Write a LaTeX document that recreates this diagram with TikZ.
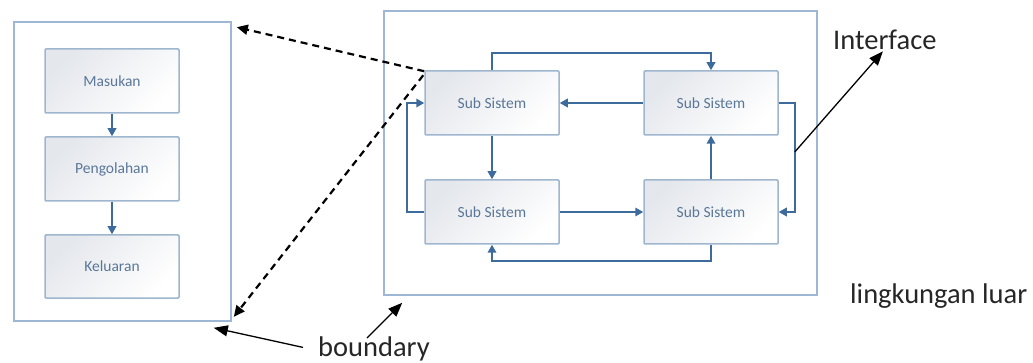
\documentclass[tikz,border=0pt]{standalone}
\usepackage{fontspec}
\setmainfont{Carlito}
\usetikzlibrary{arrows.meta,calc}
\definecolor{framecol}{HTML}{9DB7D5}
\definecolor{boxline}{HTML}{9FB6CF}
\definecolor{boxshade}{HTML}{E4E7EC}
\definecolor{flowcol}{HTML}{3D6B9C}
\definecolor{boxtext}{HTML}{5A7799}
\definecolor{labeltext}{HTML}{262626}

\begin{document}
\begin{tikzpicture}[x=1pt,y=-1pt,
  outerframe/.style={draw=framecol,line width=1.6pt,inner sep=0},
  unit/.style={draw=boxline,line width=1.5pt,rounded corners=1pt,
    top color=boxshade,bottom color=white,shading angle=45,
    minimum width=134pt,minimum height=64pt,inner sep=0,
    font=\fontsize{15.5}{18}\selectfont,text=boxtext},
  flowline/.style={draw=flowcol,line width=1.8pt,-{Triangle[length=8pt,width=8.5pt]}},
  dashlink/.style={draw=black,line width=2.2pt,dash pattern=on 7pt off 5pt,
    -{Triangle[length=11pt,width=10pt]}},
  pointer/.style={draw=black,line width=1.3pt,-{Triangle[length=14pt,width=11pt]}},
  caption/.style={inner sep=0,font=\fontsize{28.5}{32}\selectfont,text=labeltext}]

  \useasboundingbox (0,0) rectangle (1033,363);

  % system with input, process and output
  \node[outerframe,minimum width=217pt,minimum height=299pt] (sysbox) at (122.5,171.5) {};
  \node[unit] (mas)  at (112,81)    {Masukan};
  \node[unit] (peng) at (112,169)   {Pengolahan};
  \node[unit,minimum height=63pt] (kel) at (112,266.5) {Keluaran};
  \draw[flowline] (mas) -- (peng);
  \draw[flowline] (peng) -- (kel);

  % system made of interacting subsystems
  \node[outerframe,minimum width=433pt,minimum height=284pt] (env) at (600.5,153) {};
  \node[unit] (tl) at (492,103) {Sub Sistem};
  \node[unit] (tr) at (711,103) {Sub Sistem};
  \node[unit] (bl) at (492,212) {Sub Sistem};
  \node[unit] (br) at (711,212) {Sub Sistem};

  \draw[flowline] (tl.north) -- ++(0,-17) -| (tr.north);
  \draw[flowline] (tr.west) -- (tl.east);
  \draw[flowline] (tl.south) -- (bl.north);
  \draw[flowline] (bl.east) -- (br.west);
  \draw[flowline] (br.north) -- (tr.south);
  \draw[flowline] (br.south) -- ++(0,16) -| (bl.south);
  \draw[flowline] (bl.west) -- ++(-17,0) |- (tl.west);
  \draw[flowline] (tr.east) -- ++(16,0) |- (br.east);

  % links between the two views
  \coordinate (d1) at ($(tl.north west)+(0,1)$);
  \coordinate (d2) at ($(tl.north west)+(-1,5)$);
  \coordinate (s1) at ($(sysbox.north east)+(5,6)$);
  \coordinate (s2) at ($(sysbox.south east)+(2,-5)$);
  \draw[dashlink] (d1) -- (s1);
  \draw[dashlink] (d2) -- (s2);

  % labels
  \node[caption,anchor=base west] (iface) at (833,50) {Interface};
  \node[caption,anchor=base west] (bnd) at (318,356) {boundary};
  \node[caption,anchor=base west] (outer) at (850,303) {lingkungan luar};

  \coordinate (ifpt) at ($(tr.east)+(16,49)$);
  \draw[pointer] (ifpt) -- ($(iface.south)+(-2,1)$);

  \coordinate (b1) at ($(bnd.west)+(-15,-1)$);
  \coordinate (b2) at ($(bnd.north west)+(49,2)$);
  \draw[pointer] (b1) -- ($(sysbox.south east)+(-18,6)$);
  \draw[pointer] (b2) -- ($(env.south west)+(19,7)$);
\end{tikzpicture}
\end{document}
